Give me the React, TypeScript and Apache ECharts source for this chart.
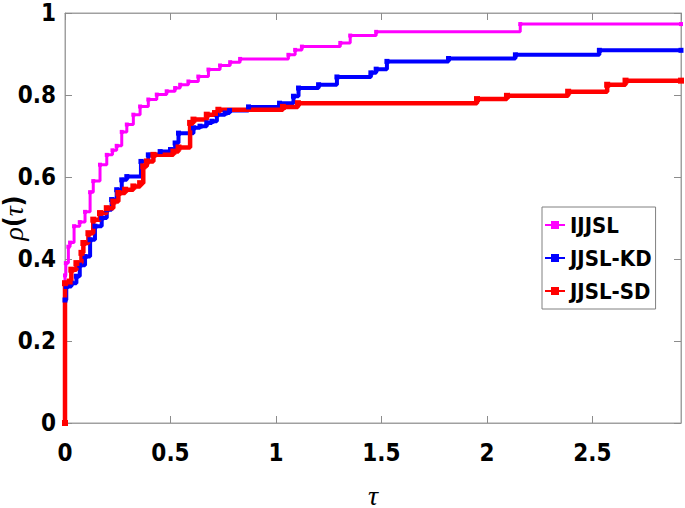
import React, { useEffect, useRef } from "react";
import * as echarts from "echarts";

const seriesNames = ["IJJSL", "JJSL-KD", "JJSL-SD"];
const seriesColors = ["#ff00ff", "#0000ff", "#ff0000"];

const ijjslPoints: [number, number][] = [
  [0, 0], [0, 0.36], [0.004, 0.39], [0.016, 0.43], [0.024, 0.44], [0.043, 0.48], [0.07, 0.49],
  [0.095, 0.515], [0.119, 0.563], [0.134, 0.59], [0.166, 0.63], [0.198, 0.654], [0.225, 0.665],
  [0.245, 0.676], [0.269, 0.71], [0.293, 0.728], [0.324, 0.752], [0.356, 0.772], [0.395, 0.789],
  [0.435, 0.801], [0.482, 0.809], [0.522, 0.817], [0.546, 0.825], [0.585, 0.833], [0.632, 0.845],
  [0.68, 0.862], [0.735, 0.872], [0.783, 0.88], [0.83, 0.888], [1.059, 0.898], [1.091, 0.91],
  [1.123, 0.918], [1.305, 0.927], [1.352, 0.945], [1.475, 0.954], [2.158, 0.973], [2.92, 0.973],
];

const jjslKdPoints: [number, number][] = [
  [0, 0], [0, 0.3], [0.006, 0.333], [0.03, 0.341], [0.054, 0.358], [0.07, 0.385], [0.095, 0.406],
  [0.119, 0.447], [0.142, 0.48], [0.174, 0.5], [0.198, 0.52], [0.221, 0.545], [0.245, 0.569],
  [0.269, 0.593], [0.293, 0.601], [0.36, 0.638], [0.395, 0.654], [0.451, 0.662], [0.5, 0.667],
  [0.522, 0.683], [0.538, 0.707], [0.609, 0.72], [0.64, 0.724], [0.672, 0.732], [0.696, 0.736],
  [0.72, 0.752], [0.759, 0.756], [0.78, 0.762], [0.87, 0.771], [1.017, 0.78], [1.083, 0.797],
  [1.107, 0.817], [1.202, 0.825], [1.289, 0.844], [1.45, 0.854], [1.475, 0.863], [1.526, 0.882],
  [1.818, 0.889], [2.135, 0.898], [2.533, 0.909], [2.92, 0.909],
];

const jjslSdPoints: [number, number][] = [
  [0, 0], [0, 0.341], [0.022, 0.345], [0.03, 0.374], [0.054, 0.39], [0.078, 0.415], [0.087, 0.439],
  [0.111, 0.463], [0.134, 0.496], [0.166, 0.512], [0.198, 0.524], [0.229, 0.54], [0.253, 0.561],
  [0.285, 0.569], [0.324, 0.577], [0.356, 0.585], [0.371, 0.626], [0.388, 0.638], [0.419, 0.654],
  [0.514, 0.662], [0.538, 0.672], [0.593, 0.732], [0.609, 0.74], [0.672, 0.752], [0.711, 0.756],
  [0.727, 0.764], [1.033, 0.771], [1.104, 0.78], [1.953, 0.79], [2.095, 0.798], [2.385, 0.808],
  [2.57, 0.825], [2.657, 0.835], [2.92, 0.835],
];

const xMin = 0;
const xMax = 2.92;
const xInterval = 0.5;
const yMin = 0;
const yMax = 1;
const yInterval = 0.2;

const allPoints = [ijjslPoints, jjslKdPoints, jjslSdPoints];
const lineWidths = [3, 4, 4.5];
const symbolSizes = [4, 5, 6];

const labelFont = "'Liberation Sans Narrow', 'DejaVu Sans Condensed', Arial, sans-serif";
const axisGray = "#a0a0a0";

export default function App() {
  const ref = useRef<HTMLDivElement>(null);
  useEffect(() => {
    if (!ref.current) return;
    const chart = echarts.init(ref.current, undefined, { renderer: "svg" });
    const tickStyle = { show: true, inside: true, length: 7, lineStyle: { color: "#8c8c8c", width: 1 } };
    chart.setOption({
      animation: false,
      backgroundColor: "#ffffff",
      grid: {
        left: 65, top: 13, right: 4, bottom: 85,
        containLabel: false, outerBoundsMode: "none",
        show: true, borderColor: axisGray, borderWidth: 1,
      },
      legend: {
        data: seriesNames,
        orient: "vertical",
        left: 542,
        top: 207,
        padding: [5, 4, 5, 2],
        itemWidth: 20,
        itemHeight: 10,
        itemGap: 7,
        backgroundColor: "#ffffff",
        borderColor: "#808080",
        borderWidth: 1,
        textStyle: { fontFamily: labelFont, fontWeight: "bold", fontSize: 22, lineHeight: 26, color: "#000" },
      },
      xAxis: [
        {
          type: "value",
          min: xMin,
          max: xMax,
          interval: xInterval,
          position: "bottom",
          axisLine: { show: true, onZero: false, lineStyle: { color: axisGray } },
          axisTick: tickStyle,
          splitLine: { show: false },
          axisLabel: {
            fontFamily: labelFont, fontWeight: "bold", fontSize: 24, color: "#000", margin: 18,
            showMaxLabel: false,
          },
          name: "τ",
          nameLocation: "middle",
          nameGap: 58,
          nameMoveOverlap: false,
          nameTextStyle: { fontFamily: "'Liberation Serif', serif", fontStyle: "italic", fontSize: 28, color: "#000" },
        },
        {
          type: "value",
          min: xMin,
          max: xMax,
          interval: xInterval,
          position: "top",
          axisLine: { show: true, onZero: false, lineStyle: { color: axisGray } },
          axisTick: tickStyle,
          splitLine: { show: false },
          axisLabel: { show: false },
        },
      ],
      yAxis: [
        {
          type: "value",
          min: yMin,
          max: yMax,
          interval: yInterval,
          position: "left",
          axisLine: { show: true, onZero: false, lineStyle: { color: axisGray } },
          axisTick: tickStyle,
          splitLine: { show: false },
          axisLabel: { fontFamily: labelFont, fontWeight: "bold", fontSize: 24, color: "#000", margin: 9 },
          name: "{g|ρ}{p|(}{g|τ}{p|)}",
          nameLocation: "middle",
          nameRotate: 90,
          nameGap: 38,
          nameMoveOverlap: false,
          nameTextStyle: {
            rich: {
              g: { fontFamily: "'Liberation Serif', serif", fontStyle: "italic", fontSize: 28, color: "#000" },
              p: { fontFamily: labelFont, fontWeight: "bold", fontSize: 26, color: "#000" },
            },
          },
        },
        {
          type: "value",
          min: yMin,
          max: yMax,
          interval: yInterval,
          position: "right",
          axisLine: { show: true, onZero: false, lineStyle: { color: axisGray } },
          axisTick: tickStyle,
          splitLine: { show: false },
          axisLabel: { show: false },
        },
      ],
      series: allPoints.map((pts, i) => ({
        name: seriesNames[i],
        type: "line",
        step: "end",
        data: pts,
        xAxisIndex: 0,
        yAxisIndex: 0,
        color: seriesColors[i],
        lineStyle: { color: seriesColors[i], width: lineWidths[i] },
        itemStyle: { color: seriesColors[i] },
        symbol: "rect",
        symbolSize: symbolSizes[i],
        showSymbol: true,
        showAllSymbol: true,
        clip: true,
      })),
    });
    return () => chart.dispose();
  }, []);
  return <div ref={ref} style={{ position: "fixed", left: 0, top: 0, width: 685, height: 508 }} />;
}
